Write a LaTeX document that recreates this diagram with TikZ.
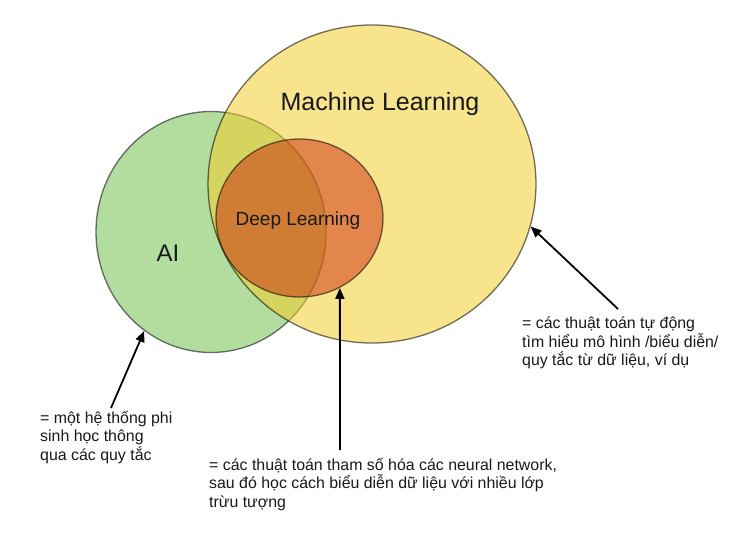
\documentclass[tikz,border=0pt]{standalone}
\usepackage{fontspec}
\setmainfont{Liberation Sans}
\usetikzlibrary{shapes.geometric,arrows.meta}
\definecolor{aigreen}{RGB}{179,221,159}
\definecolor{mlyellow}{RGB}{242,205,42}
\definecolor{dlorange}{RGB}{200,20,0}
\definecolor{txt}{RGB}{25,25,25}
\tikzset{
  setshape/.style={ellipse, inner sep=0pt, draw=black, draw opacity=0.55, line width=1.3pt},
  note/.style={anchor=north west, align=left, inner sep=0pt, text=txt,
    font=\fontsize{15.9}{18.4}\selectfont},
  pointer/.style={-{Triangle[length=11pt,width=9pt]}, line width=1.8pt, black}
}
\begin{document}
\begin{tikzpicture}[x=1pt,y=-1pt]
\useasboundingbox (0,0) rectangle (740,535);
% the three sets: AI, machine learning, deep learning
\node[setshape, fill=aigreen, minimum width=230pt, minimum height=241pt] (ai) at (211,232) {};
\node[setshape, fill=mlyellow, fill opacity=0.54, minimum width=328pt, minimum height=318pt] (ml) at (372,184) {};
\node[setshape, fill=dlorange, fill opacity=0.45, minimum width=167pt, minimum height=158pt] (dl) at (299.5,218) {};
% set labels
\node[text=txt, font=\fontsize{25}{30}\selectfont] (mllabel) at (380,104) {Machine Learning};
\node[text=txt, font=\fontsize{24}{28}\selectfont] (ailabel) at (168,253) {AI};
\node[text=txt, font=\fontsize{19}{23}\selectfont] (dllabel) at (298,221) {Deep Learning};
% descriptions
\node[note] (ainote) at (40,411) {= một hệ thống phi\\sinh học thông\\qua các quy tắc};
\node[note] (dlnote) at (209,458) {= các thuật toán tham số hóa các neural network,\\sau đó học cách biểu diễn dữ liệu với nhiều lớp\\trừu tượng};
\node[note] (mlnote) at (522,317) {= các thuật toán tự động\\tìm hiểu mô hình /biểu diễn/\\quy tắc từ dữ liệu, ví dụ};
% arrow tails
\coordinate (aitail) at (111,408);
\coordinate (dltail) at (340,450);
\coordinate (mltail) at (618,309);
\draw[pointer] (aitail) -- (ai.236);
\draw[pointer] (dltail) -- (dl.300.4);
\draw[pointer] (mltail) -- (ml.345);
\end{tikzpicture}
\end{document}
